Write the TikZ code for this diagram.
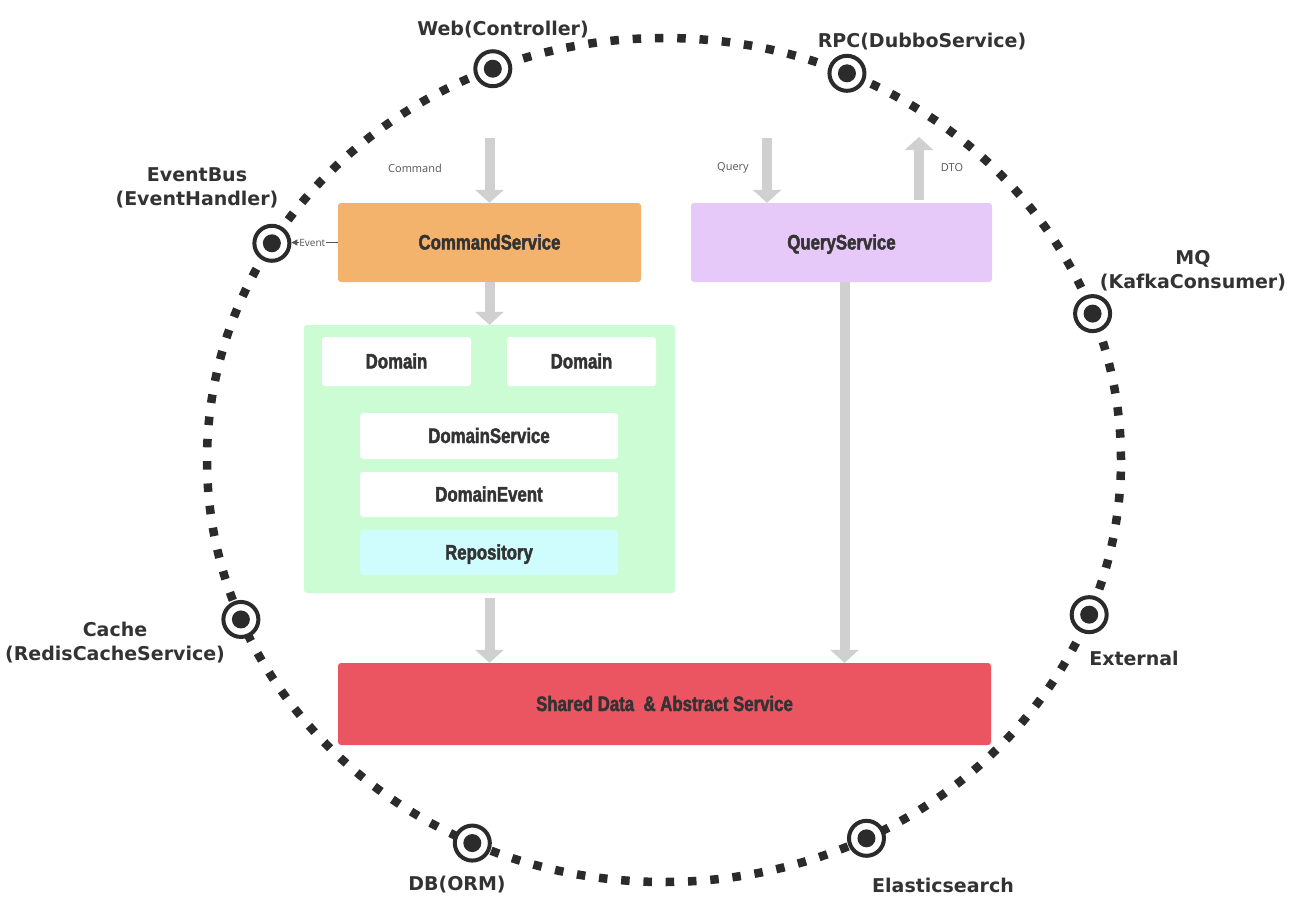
\documentclass[tikz,border=0pt]{standalone}
\usepackage{fontspec}
\usepackage{tikz}
\usetikzlibrary{calc, arrows.meta}
\newfontfamily\portfont{DejaVu Sans}
\newfontfamily\boxfont[FakeStretch=0.8, BoldFeatures={FakeBold=2}]{Liberation Sans}
\newfontfamily\notefont{Open Sans}
\definecolor{textColor}{HTML}{333333}
\definecolor{ringColor}{HTML}{2B2B2B}
\definecolor{noteColor}{HTML}{555555}
\definecolor{arrowColor}{HTML}{D0D0D0}
\definecolor{commandColor}{HTML}{F4B36C}
\definecolor{queryColor}{HTML}{E6C8F9}
\definecolor{domainColor}{HTML}{CCFCD4}
\definecolor{repoColor}{HTML}{CFFCFC}
\definecolor{sharedColor}{HTML}{EB5562}

\begin{document}
\begin{tikzpicture}[x=1pt, y=-1pt,
    box/.style={rounded corners=3pt, inner sep=0pt, text=textColor,
        text height=14pt, text depth=0pt,
        font=\boxfont\bfseries\fontsize{21}{24}\selectfont},
    port/.style={circle, draw=ringColor, line width=4pt, fill=white,
        minimum size=35pt, inner sep=0pt},
    portlabel/.style={align=center, text=textColor,
        font=\portfont\bfseries\fontsize{19}{24}\selectfont},
    note/.style={text=noteColor, font=\notefont\fontsize{11}{13}\selectfont},
    bigarrow/.style={draw=arrowColor, line width=10pt,
        -{Triangle[width=28pt, length=13pt]}}]

    \fill[white] (0,0) rectangle (1300,916);
    \useasboundingbox (0,0) rectangle (1300,916);

    \draw[ringColor, line width=8.5pt, dash pattern=on 8.5pt off 13.8pt]
        (664,460) ellipse [x radius=457pt, y radius=422pt];
    \foreach \name/\ang in {web/-112, rpc/-66.4, ebus/-149.1, mq/-20.3,
                            cache/157.8, ext/21.5, db/114.8, es/63.7} {
        \node[port] (port-\name) at ({664+457*cos(\ang)}, {460+422*sin(\ang)}) {};
        \fill[ringColor] (port-\name.center) circle (9pt);
    }

    \node[portlabel] (lbl-web) at (503,30) {Web(Controller)};
    \node[portlabel] (lbl-rpc) at (922,42) {RPC(DubboService)};
    \node[portlabel] (lbl-ebus) at (197,188) {EventBus\\(EventHandler)};
    \node[portlabel] (lbl-mq) at (1193,271) {MQ\\(KafkaConsumer)};
    \node[portlabel] (lbl-cache) at (115,643) {Cache\\(RedisCacheService)};
    \node[portlabel] (lbl-ext) at (1134,658) {External};
    \node[portlabel] (lbl-db) at (457,885) {DB(ORM)};
    \node[portlabel] (lbl-es) at (943,885) {Elasticsearch};

    \node[box, fill=commandColor, minimum width=303pt, minimum height=79pt]
        (cmd) at (489.5,242.5) {CommandService};
    \node[box, fill=queryColor, minimum width=301pt, minimum height=79pt]
        (qry) at (841.5,242.5) {QueryService};
    \node[box, fill=domainColor, minimum width=371pt, minimum height=268pt]
        (dom) at (489.5,459) {};
    \node[box, fill=white, minimum width=149pt, minimum height=49pt]
        (dom-a) at (396.5,361.5) {Domain};
    \node[box, fill=white, minimum width=149pt, minimum height=49pt]
        (dom-b) at (581.5,361.5) {Domain};
    \node[box, fill=white, minimum width=258pt, minimum height=46pt]
        (dom-svc) at (489,436) {DomainService};
    \node[box, fill=white, minimum width=258pt, minimum height=45pt]
        (dom-evt) at (489,494.5) {DomainEvent};
    \node[box, fill=repoColor, minimum width=258pt, minimum height=45pt]
        (repo) at (489,552.5) {Repository};
    \node[box, fill=sharedColor, minimum width=653pt, minimum height=82pt]
        (shared) at (664.5,704) {Shared Data\ \ \& Abstract Service};

    \coordinate (cmd-in) at (489.5,138);
    \coordinate (qry-in) at (767,138);
    \coordinate (dto-out) at (919,137);
    \draw[bigarrow] (cmd-in) -- (cmd.north);
    \draw[bigarrow] (cmd.south) -- (dom.north);
    \draw[bigarrow] (qry-in) -- (qry-in |- qry.north);
    \draw[bigarrow, shorten <=3pt] (dto-out |- qry.north) -- (dto-out);
    \draw[bigarrow, shorten <=5pt] (dom.south) -- (dom.south |- shared.north);
    \draw[bigarrow] ([xshift=3pt]qry.south) -- ([xshift=3pt]qry.south |- shared.north);

    \node[note] (cmd-note) at (415,168) {Command};
    \node[note] (qry-note) at (733,168) {Query};
    \node[note] (dto-note) at (952,168) {DTO};

    \draw[noteColor, line width=0.8pt, -{Triangle[width=6pt, length=6pt]}]
        (cmd.west) -- (cmd.west -| port-ebus.east)
        node[note, pos=0.55, fill=white, inner sep=0.5pt,
             font=\notefont\fontsize{10}{12}\selectfont] (evt-note) {Event};
\end{tikzpicture}
\end{document}
